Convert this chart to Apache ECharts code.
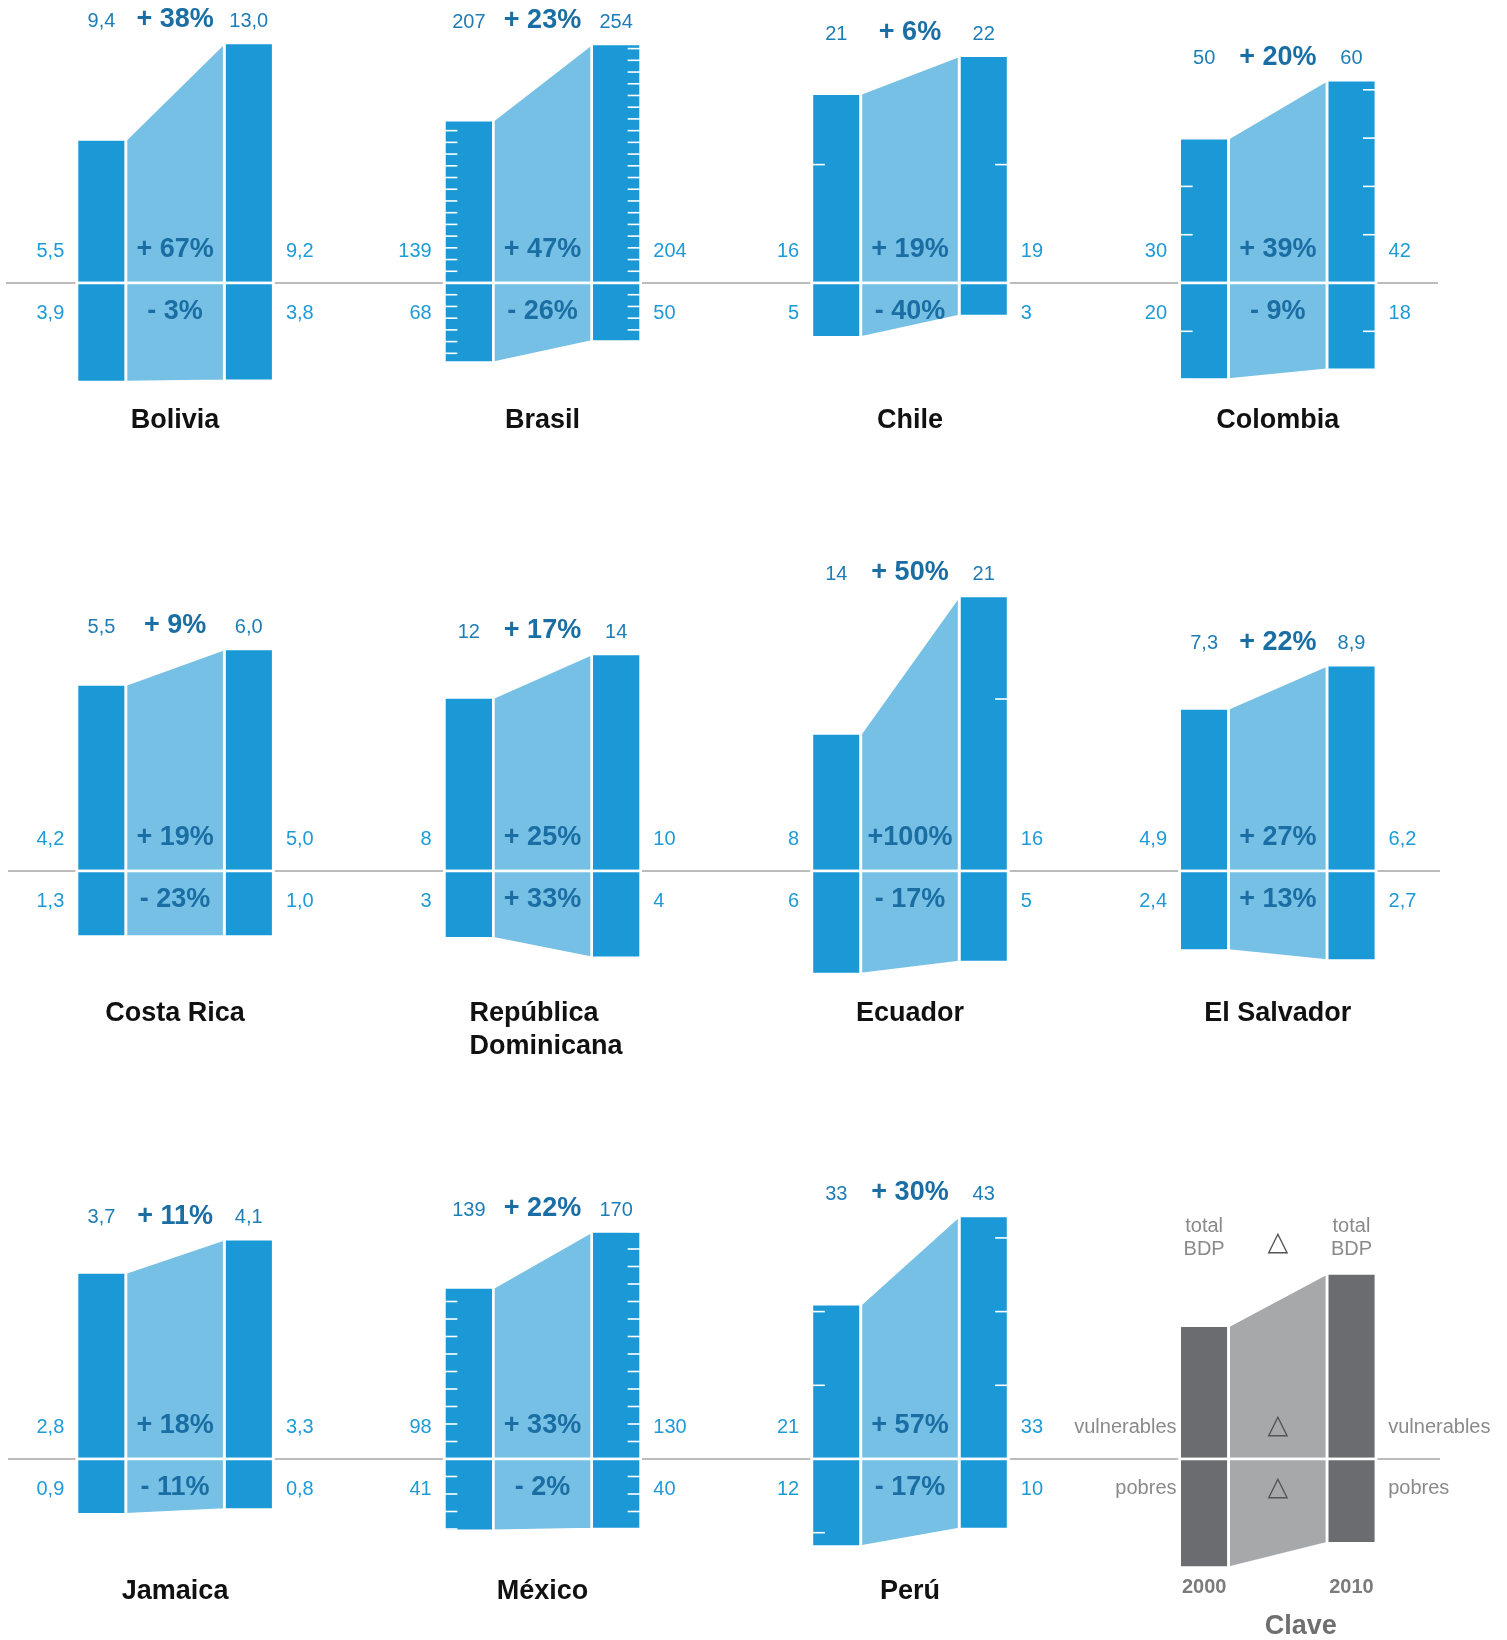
<!DOCTYPE html>
<html>
<head>
<meta charset="utf-8">
<title>Pobres y vulnerables, 2000–2010</title>
<script src="https://cdn.jsdelivr.net/npm/echarts@6.0.0/dist/echarts.min.js"></script>
<style>
  html, body { margin: 0; padding: 0; background: #fff; }
  #chart { width: 1507px; height: 1640px; }
</style>
</head>
<body>
<div id="chart"></div>
<script>
// millones de personas: vulnerables (arriba) y pobres (abajo), 2000 -> 2010
const countries = ["Bolivia", "Brasil", "Chile", "Colombia", "Costa Rica", "República\nDominicana",
  "Ecuador", "El Salvador", "Jamaica", "México", "Perú"];
const vuln2000 = [5.5, 139, 16, 30, 4.2, 8, 8, 4.9, 2.8, 98, 21];
const vuln2010 = [9.2, 204, 19.2, 42, 5.0, 10, 16, 6.2, 3.3, 130, 33];
const poor2000 = [3.8, 68, 4.6, 20, 1.48, 3.1, 6, 2.4, 0.83, 41, 11.9];
const poor2010 = [3.75, 50, 2.8, 18, 1.48, 4, 5.3, 2.7, 0.76, 40, 9.5];

// printed labels
const total2000Lbl = ["9,4", "207", "21", "50", "5,5", "12", "14", "7,3", "3,7", "139", "33"];
const total2010Lbl = ["13,0", "254", "22", "60", "6,0", "14", "21", "8,9", "4,1", "170", "43"];
const vuln2000Lbl = ["5,5", "139", "16", "30", "4,2", "8", "8", "4,9", "2,8", "98", "21"];
const vuln2010Lbl = ["9,2", "204", "19", "42", "5,0", "10", "16", "6,2", "3,3", "130", "33"];
const poor2000Lbl = ["3,9", "68", "5", "20", "1,3", "3", "6", "2,4", "0,9", "41", "12"];
const poor2010Lbl = ["3,8", "50", "3", "18", "1,0", "4", "5", "2,7", "0,8", "40", "10"];
const totalChg = ["+ 38%", "+ 23%", "+ 6%", "+ 20%", "+ 9%", "+ 17%", "+ 50%", "+ 22%", "+ 11%", "+ 22%", "+ 30%"];
const vulnChg = ["+ 67%", "+ 47%", "+ 19%", "+ 39%", "+ 19%", "+ 25%", "+100%", "+ 27%", "+ 18%", "+ 33%", "+ 57%"];
const poorChg = ["- 3%", "- 26%", "- 40%", "- 9%", "- 23%", "+ 33%", "- 17%", "+ 13%", "- 11%", "- 2%", "- 17%"];

// clave (illustrative sizes)
const keyVuln = [1.333, 1.857];
const keyPoor = [1.087, 0.843];
const keyYears = ["2000", "2010"];

// ---- layout ----
const pxPerUnit = [26.1, 1.172, 11.84, 4.83, 44.4, 21.7, 17.2, 33.2, 66.6, 1.75, 7.37, 100];
const COL_X = [78.3, 445.7, 813.2, 1181];      // left edge of 2000 bar
const ROW_BASE = [283, 871, 1459];             // zero line of each row
const NAME_DY = [137.5, 142.4, 132.6];
const RULE_X = [[6, 1438], [8, 1440], [8, 1440]];
const PAIR = 147.3, HALF = 24.5, GAP = 2.7;
const TOP_SPACE = 280, BOTTOM_SPACE = 130;
const TICK_STEP = 10;

const FONT = "'Liberation Sans', Arial, sans-serif";
const C_BAR = "#1b99d6", C_FLOW = "#76c0e5";
const C_TOTAL = "#1f7db5", C_CHG = "#1a6ea3", C_SIDE = "#1e9bd7";
const C_KEYBAR = "#6b6c70", C_KEYFLOW = "#a7a8aa", C_KEYTXT = "#8a8a8a";

const chart = echarts.init(document.getElementById("chart"));

function txt(text, x, y, font, fill, align) {
  return {
    type: "text",
    style: { text: text, x: x, y: y, font: font, fill: fill, align: align || "center", verticalAlign: "middle", lineHeight: 22.6 }
  };
}

function renderPanel(i, api) {
  const isKey = i === countries.length;
  const row = Math.floor(i / 4);
  const v0 = isKey ? keyVuln[0] : vuln2000[i];
  const v1 = isKey ? keyVuln[1] : vuln2010[i];
  const p0 = isKey ? keyPoor[0] : poor2000[i];
  const p1 = isKey ? keyPoor[1] : poor2010[i];

  const L = api.coord([0, 0]), R = api.coord([1, 0]);
  const xl = L[0], xr = R[0], base = L[1];
  const yv0 = api.coord([0, v0])[1], yv1 = api.coord([1, v1])[1];
  const yp0 = api.coord([0, -p0])[1], yp1 = api.coord([1, -p1])[1];
  const barColor = isKey ? C_KEYBAR : C_BAR;
  const flowColor = isKey ? C_KEYFLOW : C_FLOW;

  const kids = [];
  const bar = (cx, ya, yb) => ({
    type: "rect",
    shape: { x: cx - HALF, y: Math.min(ya, yb), width: 2 * HALF, height: Math.abs(yb - ya) },
    style: { fill: barColor, stroke: "#fff", lineWidth: GAP }
  });
  kids.push(bar(xl, yv0, base), bar(xl, base, yp0), bar(xr, yv1, base), bar(xr, base, yp1));

  const a = xl + HALF, b = xr - HALF;
  kids.push({
    type: "polygon",
    shape: { points: [[a, yv0], [b, yv1], [b, base], [a, base]] },
    style: { fill: flowColor, stroke: "#fff", lineWidth: GAP }
  });
  kids.push({
    type: "polygon",
    shape: { points: [[a, base], [b, base], [b, yp1], [a, yp0]] },
    style: { fill: flowColor, stroke: "#fff", lineWidth: GAP }
  });

  const mid = (xl + xr) / 2;
  const leftEdge = xl - HALF + 1.35, rightEdge = xr + HALF - 1.35;

  if (!isKey) {
    // scale ticks, every 10 units
    const tick = (x1, x2, y) => ({ type: "line", shape: { x1: x1, y1: y, x2: x2, y2: y }, style: { stroke: "#fff", lineWidth: 1.6 } });
    for (let t = TICK_STEP; t <= v0 + 0.01; t += TICK_STEP) kids.push(tick(xl - HALF, xl - HALF + 13, api.coord([0, t])[1]));
    for (let t = TICK_STEP; t <= p0 + 0.01; t += TICK_STEP) kids.push(tick(xl - HALF, xl - HALF + 13, api.coord([0, -t])[1]));
    for (let t = TICK_STEP; t <= v1 + 0.01; t += TICK_STEP) kids.push(tick(xr + HALF - 13, xr + HALF, api.coord([1, t])[1]));
    for (let t = TICK_STEP; t <= p1 + 0.01; t += TICK_STEP) kids.push(tick(xr + HALF - 13, xr + HALF, api.coord([1, -t])[1]));

    const topY = Math.min(yv0, yv1) - 21.5;
    kids.push(txt(total2000Lbl[i], xl, topY, "20px " + FONT, C_TOTAL));
    kids.push(txt(total2010Lbl[i], xr, topY, "20px " + FONT, C_TOTAL));
    kids.push(txt(totalChg[i], mid, topY - 1.5, "bold 27px " + FONT, C_CHG));

    kids.push(txt(vuln2000Lbl[i], leftEdge - 14, base - 31.5, "20px " + FONT, C_SIDE, "right"));
    kids.push(txt(poor2000Lbl[i], leftEdge - 14, base + 30, "20px " + FONT, C_SIDE, "right"));
    kids.push(txt(vuln2010Lbl[i], rightEdge + 14, base - 31.5, "20px " + FONT, C_SIDE, "left"));
    kids.push(txt(poor2010Lbl[i], rightEdge + 14, base + 30, "20px " + FONT, C_SIDE, "left"));

    kids.push(txt(vulnChg[i], mid, base - 33, "bold 27px " + FONT, C_CHG));
    kids.push(txt(poorChg[i], mid, base + 28.5, "bold 27px " + FONT, C_CHG));

    const name = countries[i];
    if (name.indexOf("\n") >= 0) {
      const t = txt(name, mid - 73, base + NAME_DY[row] + 16.7, "bold 27px " + FONT, "#111", "left");
      t.style.lineHeight = 33.4;
      kids.push(t);
    } else {
      kids.push(txt(name, mid, base + NAME_DY[row], "bold 27px " + FONT, "#111"));
    }
  } else {
    const f = "20px " + FONT;
    kids.push(txt("total\nBDP", xl, base - 221, f, C_KEYTXT));
    kids.push(txt("total\nBDP", xr, base - 221, f, C_KEYTXT));
    kids.push(txt("vulnerables", leftEdge - 4.5, base - 32, f, C_KEYTXT, "right"));
    kids.push(txt("pobres", leftEdge - 4.5, base + 29.3, f, C_KEYTXT, "right"));
    kids.push(txt("vulnerables", rightEdge + 13.6, base - 32, f, C_KEYTXT, "left"));
    kids.push(txt("pobres", rightEdge + 13.6, base + 29.3, f, C_KEYTXT, "left"));
    const tri = "27px 'DejaVu Sans', sans-serif";
    kids.push(txt("△", mid, base - 216.5, tri, "#555"));
    kids.push(txt("△", mid, base - 33, tri, "#555"));
    kids.push(txt("△", mid, base + 28.5, tri, "#555"));
    kids.push(txt(keyYears[0], xl, base + 128.3, "bold 20px " + FONT, "#7b7b7b"));
    kids.push(txt(keyYears[1], xr, base + 128.3, "bold 20px " + FONT, "#7b7b7b"));
    kids.push(txt("Clave", mid + 23, base + 167.7, "bold 27px " + FONT, "#6f6f6f"));
  }
  return { type: "group", children: kids };
}

const grids = [], xAxes = [], yAxes = [], series = [];
for (let i = 0; i <= countries.length; i++) {
  const row = Math.floor(i / 4), col = i % 4;
  const ppu = pxPerUnit[i];
  grids.push({
    left: COL_X[col] + HALF - 1.35, width: PAIR,
    top: ROW_BASE[row] - TOP_SPACE, height: TOP_SPACE + BOTTOM_SPACE
  });
  xAxes.push({ gridIndex: i, type: "value", min: 0, max: 1, show: false });
  yAxes.push({ gridIndex: i, type: "value", min: -BOTTOM_SPACE / ppu, max: TOP_SPACE / ppu, show: false });
  series.push({
    type: "custom", coordinateSystem: "cartesian2d", xAxisIndex: i, yAxisIndex: i,
    data: [[0, 0]], silent: true, clip: false, z: 3,
    renderItem: (params, api) => renderPanel(i, api)
  });
}

// zero rule of each row, drawn on the first grid of the row
ROW_BASE.forEach((b, row) => {
  series.push({
    type: "custom", coordinateSystem: "cartesian2d", xAxisIndex: row * 4, yAxisIndex: row * 4,
    data: [[0, 0]], silent: true, clip: false, z: 1,
    renderItem: (params, api) => {
      const y = api.coord([0, 0])[1];
      return {
        type: "line",
        shape: { x1: RULE_X[row][0], y1: y, x2: RULE_X[row][1], y2: y },
        style: { stroke: "#a6a6a6", lineWidth: 1.5 }
      };
    }
  });
});

chart.setOption({
  backgroundColor: "#fff",
  animation: false,
  grid: grids,
  xAxis: xAxes,
  yAxis: yAxes,
  series: series
});
</script>
</body>
</html>
